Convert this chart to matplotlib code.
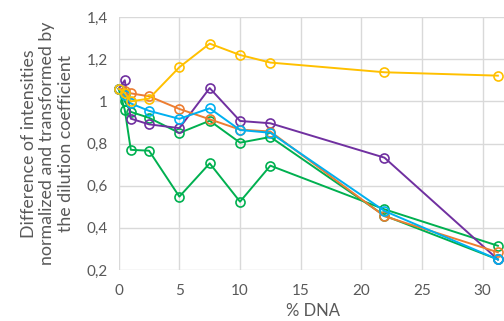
import numpy as np
import matplotlib.pyplot as plt

# % DNA values (same for every series)
dna = [0, 0.5, 1, 2.5, 5, 7.5, 10, 12.5, 21.9, 31.25]

yellow = [1.06, 1.04, 1.00, 1.013, 1.162, 1.274, 1.22, 1.184, 1.138, 1.122]
orange = [1.06, 1.05, 1.038, 1.024, 0.964, 0.915, 0.866, 0.857, 0.455, 0.284]
blue = [1.06, 1.03, 0.99, 0.955, 0.917, 0.967, 0.864, 0.851, 0.48, 0.25]
purple = [1.06, 1.10, 0.918, 0.891, 0.873, 1.063, 0.907, 0.896, 0.733, 0.25]
green_a = [1.06, 0.96, 0.77, 0.766, 0.548, 0.706, 0.524, 0.695, 0.488, 0.315]
green_b = [1.06, 1.0, 0.95, 0.922, 0.85, 0.908, 0.804, 0.831, 0.458, 0.25]

series = [
    (green_a, '#00B050'),
    (green_b, '#00B050'),
    (purple, '#7030A0'),
    (orange, '#ED7D31'),
    (blue, '#00B0F0'),
    (yellow, '#FFC000'),
]

plt.rcParams['font.family'] = ['Lato', 'DejaVu Sans']

fig = plt.figure(figsize=(5.04, 3.21), dpi=100)
ax = fig.add_axes([0.2355, 0.1589, 0.7704, 0.788])

for vals, col in series:
    ax.plot(dna, vals, color=col, linewidth=1.4, marker='o', markersize=6.5,
            markerfacecolor='none', markeredgecolor=col, markeredgewidth=1.2,
            clip_on=False, zorder=3)

ax.set_xlim(0, 32)
ax.set_ylim(0.2, 1.4)
ax.set_xticks(np.arange(0, 31, 5))
yt = [0.2, 0.4, 0.6, 0.8, 1.0, 1.2, 1.4]
ax.set_yticks(yt)
ax.set_yticklabels(['0,2', '0,4', '0,6', '0,8', '1', '1,2', '1,4'])

ax.grid(True, color='#D9D9D9', linewidth=1.0, zorder=0)
ax.set_axisbelow(True)
for s in ax.spines.values():
    s.set_visible(False)
ax.tick_params(length=0, labelsize=11, colors='#595959')
ax.tick_params(axis='x', pad=10)
ax.tick_params(axis='y', pad=8)

ax.set_xlabel('% DNA', fontsize=12, color='#595959', labelpad=4)
ax.set_ylabel('Difference of intensities\nnormalized and transformed by\nthe dilution coefficient',
              fontsize=12.8, color='#595959', labelpad=9, linespacing=1.2)

fig.savefig('out.png', dpi=100)
